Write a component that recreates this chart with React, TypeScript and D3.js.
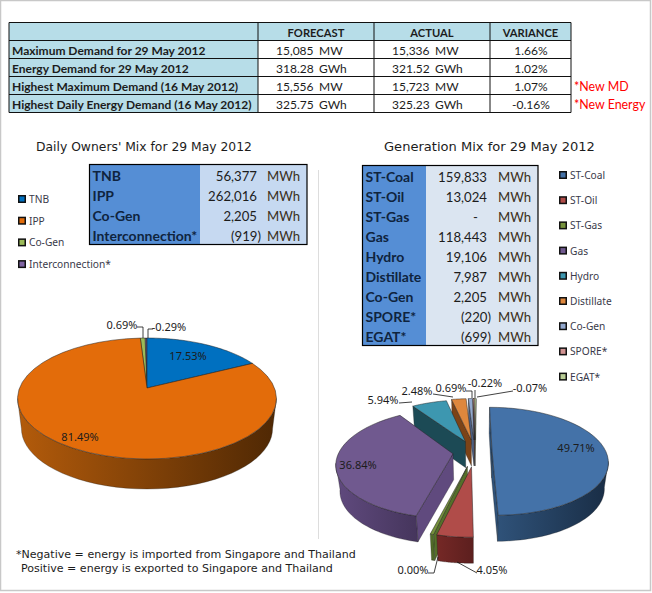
import * as d3 from 'd3';

// summary table
const tableHeaders = ['FORECAST', 'ACTUAL', 'VARIANCE'];
const tableRows = [
  'Maximum Demand for 29 May 2012',
  'Energy Demand for 29 May 2012',
  'Highest Maximum Demand (16 May 2012)',
  'Highest Daily Energy Demand (16 May 2012)',
];
const forecast = [15085, 318.28, 15556, 325.75];
const actual = [15336, 321.52, 15723, 325.23];
const variance = [1.66, 1.02, 1.07, -0.16];
const tableUnits = ['MW', 'GWh', 'MW', 'GWh'];
const tableNotes = ['', '', '*New MD', '*New Energy'];

// owners' mix
const ownerNames = ['TNB', 'IPP', 'Co-Gen', 'Interconnection*'];
const ownerMWh = [56377, 262016, 2205, -919];
const ownerShare = [17.53, 81.49, 0.69, -0.29];
const ownerColors = ['#0070c0', '#e36c0a', '#9bbb59', '#8064a2'];

// generation mix
const genNames = ['ST-Coal', 'ST-Oil', 'ST-Gas', 'Gas', 'Hydro', 'Distillate', 'Co-Gen', 'SPORE*', 'EGAT*'];
const genMWh = [159833, 13024, 0, 118443, 19106, 7987, 2205, -220, -699];
const genShare = [49.71, 4.05, 0.0, 36.84, 5.94, 2.48, 0.69, -0.22, -0.07];
const genColors = ['#4472a8', '#b04c49', '#76923c', '#70598f', '#3d97b0', '#de873d', '#93a9cf', '#d19392', '#b9cd96'];
const genExplode = [0.15, 0.27, 0.27, 0.195, 0.22, 0.24, 0.24, 0.24, 0.24];
const genWalls = [
  ['#2f5279', '#192d45'],
  ['#752826', '#5c1f1e'],
  ['#55702a', '#4a6324'],
  ['#604a7e', '#45355c'],
  ['#1c4a55', '#1c4a55'],
  ['#7c4317', '#7c4317'],
  ['#4c5f82', '#4c5f82'],
  ['#7c4a49', '#7c4a49'],
  ['#667550', '#667550'],
];
const ownerWalls = [
  ['#00406e', '#00406e'],
  ['#b35b0b', '#4f2804'],
  ['#5a6e31', '#5a6e31'],
  ['#4a3a60', '#4a3a60'],
];

const bodyFont = '"Noto Sans", sans-serif';
const wideFont = '"DejaVu Sans", sans-serif';
const tableFont = 'Lato, sans-serif';
const ink = '#1c1c1c';

// d3.format gives a true minus sign, the picture has a plain hyphen
const pctFormat = (v: number) => d3.format('.2f')(v).replace('\u2212', '-');
const intFormat = d3.format(',');
const demandText = (v: number) => (v > 1000 ? intFormat(v) : pctFormat(v));
const mwhText = (v: number) => (v === 0 ? '-' : v < 0 ? `(${intFormat(-v)})` : intFormat(v));

type Pie3D = { cx: number; cy: number; rx: number; ry: number; tilt: number; depth: number };

const project = (p: Pie3D, u: number, v: number, bottom = false): [number, number] => {
  const s = 1 / (1 - p.tilt * v);
  const shrink = bottom ? 0.97 : 1;
  return [p.cx + p.rx * shrink * u * s, p.cy + (bottom ? p.depth : 0) + p.ry * v * s];
};

const linePath = d3.line();

function PieSlices({ id, pie, share, colors, walls, explode }: any) {
  const arcs = d3.pie<number>().sort(null).value((d) => Math.abs(d))(share);
  const slices = arcs
    .map((a, i) => {
      // a zero share still shows as a hairline wedge
      const pad = a.endAngle - a.startAngle < 0.01 ? 0.012 : 0;
      const t0 = a.startAngle - pad;
      const t1 = a.endAngle + pad;
      const mid = (t0 + t1) / 2;
      const e = explode ? explode[i] : 0;
      const eu = e * Math.sin(mid);
      const ev = -e * Math.cos(mid);
      const at = (t: number, bottom = false) => project(pie, eu + Math.sin(t), ev - Math.cos(t), bottom);
      const apex = (bottom = false) => project(pie, eu, ev, bottom);
      const sweep = (from: number, to: number, bottom = false) =>
        d3.range(0, 41).map((k) => at(from + ((to - from) * k) / 40, bottom));
      const top = linePath([apex(), ...sweep(t0, t1)]) + 'Z';
      const silL = (100 * Math.PI) / 180;
      const silR = (260 * Math.PI) / 180;
      const w0 = Math.max(t0, silL);
      const w1 = Math.min(t1, silR);
      const outer =
        w1 > w0 ? linePath([...sweep(w0, w1), ...sweep(w0, w1, true).reverse()]) + 'Z' : null;
      const faces: string[] = [];
      if (Math.sin(t0) <= 0) faces.push(linePath([apex(), at(t0), at(t0, true), apex(true)]) + 'Z');
      if (Math.sin(t1) > 0) faces.push(linePath([apex(), at(t1), at(t1, true), apex(true)]) + 'Z');
      return { i, mid, top, outer, faces };
    })
    .sort((a, b) => d3.ascending(-Math.cos(a.mid), -Math.cos(b.mid)));

  return (
    <g>
      <defs>
        {walls.map((w: string[], i: number) => (
          <linearGradient key={i} id={`${id}-wall-${i}`} x1="0" x2="1" y1="0" y2="0">
            <stop offset="0" stopColor={w[0]} />
            <stop offset="1" stopColor={w[1]} />
          </linearGradient>
        ))}
      </defs>
      {slices.map((s) => (
        <g key={s.i}>
          {s.faces.map((d, k) => (
            <path key={k} d={d} fill={walls[s.i][0]} stroke="#1a1a1a" strokeWidth={0.3} />
          ))}
          {s.outer && <path d={s.outer} fill={`url(#${id}-wall-${s.i})`} stroke="#1a1a1a" strokeWidth={0.3} />}
          <path d={s.top} fill={colors[s.i]} stroke="#222" strokeWidth={0.5} />
        </g>
      ))}
    </g>
  );
}

const Label = ({ x, y, text }: { x: number; y: number; text: string }) => (
  <text x={x} y={y} textAnchor="middle" dominantBaseline="central" fontFamily={bodyFont} fontSize={11} fill={ink}>
    {text}
  </text>
);

const Leader = ({ pts }: { pts: [number, number][] }) => (
  <path d={linePath(pts) as string} fill="none" stroke="#111" strokeWidth={0.8} />
);

function Legend({ names, colors, x, y, step }: any) {
  return (
    <g>
      {names.map((n: string, i: number) => (
        <g key={n}>
          <rect x={x + 0.75} y={y + i * step - 3.25} width={6.5} height={6.5} fill={colors[i]} stroke="#111" strokeWidth={1.5} />
          <text x={x + 11} y={y + i * step} dominantBaseline="central" fontFamily={bodyFont} fontSize={10.2} fill="#3a3a4a">
            {n}
          </text>
        </g>
      ))}
    </g>
  );
}

function MixTable({ names, values, x0, xSplit, x1, y0, cellFill, numRight, unitX }: any) {
  const rowH = 20;
  const rows = d3.scaleBand<number>().domain(d3.range(names.length)).range([y0, y0 + rowH * names.length]);
  const middle = (i: number) => (rows(i) as number) + rows.bandwidth() / 2 + 1;
  return (
    <g>
      <rect x={x0} y={y0} width={xSplit - x0} height={rowH * names.length} fill="#558ed5" />
      <rect x={xSplit} y={y0} width={x1 - xSplit} height={rowH * names.length} fill={cellFill} />
      <rect x={x0} y={y0} width={x1 - x0} height={rowH * names.length} fill="none" stroke="#000" strokeWidth={1.2} />
      {names.map((n: string, i: number) => (
        <g key={n} fontFamily={tableFont} dominantBaseline="central">
          <text x={x0 + 3} y={middle(i)} fontSize={14} fontWeight={700} fill="#0f243e" dominantBaseline="central">
            {n}
          </text>
          <text
            x={numRight + (values[i] < 0 ? 4 : values[i] === 0 ? -9 : 0)}
            y={middle(i)}
            fontSize={13.2}
            textAnchor="end"
            fill={ink}
            dominantBaseline="central"
          >
            {mwhText(values[i])}
          </text>
          <text x={unitX} y={middle(i)} fontSize={13.2} fill="#3a3020" dominantBaseline="central">
            MWh
          </text>
        </g>
      ))}
    </g>
  );
}

export default function App() {
  const colX = [9, 258, 374, 490, 571];
  const rowY = d3.scaleLinear().domain([0, 5]).range([22.5, 112.5]);
  const ownerPie: Pie3D = { cx: 147, cy: 388, rx: 127.5, ry: 58.67, tilt: 0.1736, depth: 30 };
  const genPie: Pie3D = { cx: 475, cy: 452, rx: 114, ry: 52.4, tilt: 0.1736, depth: 26 };

  return (
    <svg width={652} height={593} style={{ position: 'absolute', left: 0, top: 0, background: '#fff' }}>
      <rect x={0.5} y={0.5} width={650} height={590} fill="none" stroke="#c8c8c8" strokeWidth={1.5} />
      <line x1={318.5} x2={318.5} y1={170} y2={539} stroke="#dddddd" />

      {/* summary table */}
      <rect x={colX[0]} y={rowY(0)} width={colX[4] - colX[0]} height={rowY(1) - rowY(0)} fill="#b7dde8" />
      <rect x={colX[0]} y={rowY(1)} width={colX[1] - colX[0]} height={rowY(5) - rowY(1)} fill="#b7dde8" />
      {d3.range(6).map((r) => (
        <line key={r} x1={colX[0]} x2={colX[4]} y1={rowY(r)} y2={rowY(r)} stroke="#111" strokeWidth={1} />
      ))}
      {colX.map((x) => (
        <line key={x} x1={x} x2={x} y1={rowY(0)} y2={rowY(5)} stroke="#111" strokeWidth={1} />
      ))}
      {tableHeaders.map((h, i) => (
        <text
          key={h}
          x={(colX[i + 1] + colX[i + 2]) / 2}
          y={rowY(0.5) + 1}
          textAnchor="middle"
          dominantBaseline="central"
          fontFamily={tableFont}
          fontSize={11.2}
          fontWeight={700}
          fill={ink}
        >
          {h}
        </text>
      ))}
      {tableRows.map((label, i) => {
        const y = rowY(i + 1.5) + 1;
        return (
          <g key={label} fontFamily={tableFont} fontSize={12} fill={ink}>
            <text x={12} y={y} fontWeight={700} dominantBaseline="central">
              {label}
            </text>
            <text x={276} y={y} dominantBaseline="central">{demandText(forecast[i])}</text>
            <text x={319} y={y} dominantBaseline="central">{tableUnits[i]}</text>
            <text x={392} y={y} dominantBaseline="central">{demandText(actual[i])}</text>
            <text x={435} y={y} dominantBaseline="central">{tableUnits[i]}</text>
            <text x={531} y={y} textAnchor="middle" dominantBaseline="central">{pctFormat(variance[i])}%</text>
            <text x={574} y={y} fontSize={12.4} fill="#ff0000" dominantBaseline="central">{tableNotes[i]}</text>
          </g>
        );
      })}

      {/* owners' mix */}
      <text x={36} y={147} dominantBaseline="central" fontFamily={wideFont} fontSize={12.35} fill={ink}>
        Daily Owners' Mix for 29 May 2012
      </text>
      <MixTable names={ownerNames} values={ownerMWh} x0={89.5} xSplit={200} x1={307} y0={164.5} cellFill="#c6d9f1" numRight={257} unitX={267} />
      <Legend names={ownerNames} colors={ownerColors} x={18} y={199} step={21.7} />
      <PieSlices id="owner" pie={ownerPie} share={ownerShare} colors={ownerColors} walls={ownerWalls} />
      <Label x={188} y={355} text={`${pctFormat(ownerShare[0])}%`} />
      <Label x={80} y={436} text={`${pctFormat(ownerShare[1])}%`} />
      <Label x={122} y={324} text={`${pctFormat(ownerShare[2])}%`} />
      <Label x={169} y={326} text={`${pctFormat(ownerShare[3])}%`} />
      <Leader pts={[[137, 327], [143, 327], [143, 338]]} />
      <Leader pts={[[153, 329], [148, 329], [148, 338]]} />

      {/* generation mix */}
      <text x={384} y={146} dominantBaseline="central" fontFamily={wideFont} fontSize={13.05} fill={ink}>
        Generation Mix for 29 May 2012
      </text>
      <MixTable names={genNames} values={genMWh} x0={362.5} xSplit={426} x1={538} y0={165.5} cellFill="#dbe5f1" numRight={487} unitX={498} />
      <Legend names={genNames} colors={genColors} x={559} y={175} step={25.2} />
      <PieSlices id="gen" pie={genPie} share={genShare} colors={genColors} walls={genWalls} explode={genExplode} />
      <Label x={576} y={447} text={`${pctFormat(genShare[0])}%`} />
      <Label x={358} y={464} text={`${pctFormat(genShare[3])}%`} />
      <Label x={383} y={399} text={`${pctFormat(genShare[4])}%`} />
      <Label x={417} y={390} text={`${pctFormat(genShare[5])}%`} />
      <Label x={451} y={387} text={`${pctFormat(genShare[6])}%`} />
      <Label x={485} y={382} text={`${pctFormat(genShare[7])}%`} />
      <Label x={530} y={387} text={`${pctFormat(genShare[8])}%`} />
      <Label x={492} y={569} text={`${pctFormat(genShare[1])}%`} />
      <Label x={413} y={569} text={`${pctFormat(genShare[2])}%`} />
      <Leader pts={[[399, 403], [412, 402]]} />
      <Leader pts={[[433, 394], [453, 397]]} />
      <Leader pts={[[466, 391], [472, 391], [472, 398]]} />
      <Leader pts={[[475, 390], [475, 398]]} />
      <Leader pts={[[513, 391], [477, 397]]} />
      <Leader pts={[[477, 573], [457, 562]]} />
      <Leader pts={[[428, 573], [434, 573], [438, 557]]} />

      {/* footnote */}
      <g fontFamily={wideFont} fontSize={11.05} fill={ink}>
        <text x={16} y={554} dominantBaseline="central">*Negative = energy is imported from Singapore and Thailand</text>
        <text x={21} y={568} dominantBaseline="central">Positive = energy is exported to Singapore and Thailand</text>
      </g>
    </svg>
  );
}
